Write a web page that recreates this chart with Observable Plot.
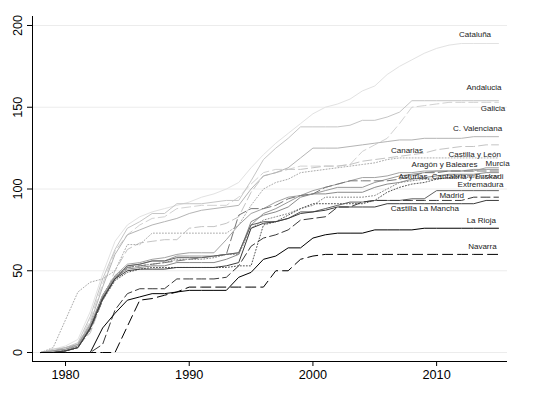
<!DOCTYPE html>
<html>
<head>
<meta charset="utf-8">
<script src="https://cdn.jsdelivr.net/npm/d3@7"></script>
<script src="https://cdn.jsdelivr.net/npm/@observablehq/plot@0.6"></script>
<style>
  html, body { margin: 0; padding: 0; background: #fff; }
  #chart svg { display: block; }
</style>
</head>
<body>
<div id="chart"></div>
<script>
const years = [1978,1979,1980,1981,1982,1983,1984,1985,1986,1987,1988,1989,1990,1991,1992,1993,1994,1995,1996,1997,1998,1999,2000,2001,2002,2003,2004,2005,2006,2007,2008,2009,2010,2011,2012,2013,2014,2015];

const cataluna      = [0,2,4,8,25,48,68,78,83,86,88,90,92,95,97,100,104,113,121,128,134,140,146,150,152,155,160,163,170,175,179,183,186,188,189,189,189,189];
const andalucia     = [0,2,3,6,22,45,63,76,80,85,85,91,91,91,92,93,93,105,118,125,131,138,138,138,138,139,142,142,144,147,154,154,154,154,154,154,154,154];
const galicia       = [0,1,3,5,20,42,62,72,78,82,83,88,89,90,90,90,95,103,110,112,112,114,114,114,114,115,123,127,131,140,150,151,152,153,153,153,153,153];
const cValenciana   = [0,1,3,5,18,40,60,72,75,78,80,82,85,87,88,89,90,100,108,110,113,119,125,125,125,126,127,128,129,130,130,131,131,131,131,132,132,132];
const castillaLeon  = [0,1,2,4,12,32,50,63,67,68,69,69,76,77,77,79,83,98,108,110,112,112,113,114,114,115,117,118,119,120,121,122,124,125,126,126,127,127];
const canarias      = [0,3,20,37,43,45,50,66,66,73,73,73,73,73,73,73,78,90,100,104,106,110,111,112,113,114,115,116,118,119,119,119,119,119,119,119,119,119];
const aragon        = [0,1,2,4,16,33,46,53,54,56,56,59,59,59,59,60,61,78,85,88,92,96,97,99,101,101,101,104,106,108,109,110,111,111,111,112,112,112];
const baleares      = [0,0,1,3,14,32,45,52,53,54,55,56,57,58,59,60,84,88,88,90,94,96,97,101,103,105,105,105,105,106,108,110,110,111,111,111,111,111];
const murcia        = [0,1,2,5,17,35,47,54,55,57,58,60,61,61,61,69,78,85,88,92,95,96,99,101,103,105,107,107,108,110,110,111,111,111,111,111,113,113];
const asturias      = [0,0,1,3,15,34,46,51,52,53,53,55,55,55,55,57,60,80,84,86,89,95,97,97,98,98,98,101,103,104,106,107,108,109,109,109,110,110];
const cantabria     = [0,0,1,3,14,32,44,49,51,52,52,52,52,52,52,52,53,53,78,80,84,88,91,91,91,91,91,93,98,101,103,104,106,107,108,108,108,108];
const euskadi       = [0,0,1,4,16,35,47,52,53,54,55,57,57,57,58,60,60,76,81,83,85,88,90,95,95,95,95,96,100,104,105,106,106,107,107,107,107,107];
const extremadura   = [0,0,1,3,15,33,45,53,54,56,56,58,58,58,59,60,61,78,80,80,82,86,86,88,90,92,92,93,93,93,94,94,99,99,99,99,99,99];
const madrid        = [0,0,0,0,0,5,26,36,39,39,39,45,45,45,45,46,53,65,70,72,75,81,82,83,89,89,92,93,93,93,93,93,93,93,93,95,95,95];
const castillaMancha= [0,0,1,3,15,33,45,50,51,51,51,52,52,52,52,53,55,76,79,80,82,85,86,87,89,89,89,89,91,91,91,91,91,91,91,91,93,93];
const laRioja       = [0,0,0,0,0,15,24,32,34,36,36,37,38,38,38,38,46,49,57,59,64,64,70,72,73,73,73,75,75,75,75,76,76,76,76,76,76,76];
const navarra       = [0,0,0,0,0,0,0,16,32,33,35,37,40,40,40,40,40,40,40,50,50,57,59,60,60,60,60,60,60,60,60,60,60,60,60,60,60,60];

const xTicks = [1980, 1990, 2000, 2010];
const yTicks = [0, 50, 100, 150, 200];

const labelText = ["Cataluña","Andalucia","Galicia","C. Valenciana","Canarias","Castilla y León","Aragón y Baleares","Murcia","Asturias, Cantabria y Euskadi","Extremadura","Madrid","Castilla La Mancha","La Rioja","Navarra"];
const labelYear = [2014.4,2015.25,2015.55,2015.3,2008.9,2015.2,2013.3,2015.9,2015.4,2015.4,2012.2,2011.8,2014.8,2014.85];
const labelValue= [194.8,162,149,137,123.5,121,115.3,115.6,107.6,102.8,96,88.4,80.7,64.8];

// series with their drawing styles
const series = [
  {v: cataluna,       stroke: "#e2e2e2", dash: null},
  {v: galicia,        stroke: "#d2d2d2", dash: "9,4"},
  {v: andalucia,      stroke: "#c6c6c6", dash: null},
  {v: castillaLeon,   stroke: "#c4c4c4", dash: "9,4"},
  {v: cValenciana,    stroke: "#b4b4b4", dash: null},
  {v: canarias,       stroke: "#ababab", dash: "1,2"},
  {v: murcia,         stroke: "#a2a2a2", dash: null},
  {v: aragon,         stroke: "#989898", dash: null},
  {v: asturias,       stroke: "#8a8a8a", dash: null},
  {v: euskadi,        stroke: "#8a8a8a", dash: "1,2"},
  {v: baleares,       stroke: "#777777", dash: "9,4"},
  {v: cantabria,      stroke: "#555555", dash: "1,2"},
  {v: extremadura,    stroke: "#606060", dash: null},
  {v: castillaMancha, stroke: "#3c3c3c", dash: null},
  {v: madrid,         stroke: "#3a3a3a", dash: "9,4"},
  {v: laRioja,        stroke: "#000000", dash: null},
  {v: navarra,        stroke: "#000000", dash: "10,5"}
];

const xDomain = [1977.33, 2015.73];
const yDomain = [-5.5, 205.5];

const lineMarks = series.map(s =>
  Plot.line(years.map((y, i) => ({year: y, value: s.v[i]})), {
    x: "year", y: "value", stroke: s.stroke, strokeWidth: 1,
    strokeDasharray: s.dash ?? undefined, curve: "linear"
  })
);

const labels = labelText.map((t, i) => ({t, x: labelYear[i], y: labelValue[i]}));

const chart = Plot.plot({
  width: 546,
  height: 394,
  marginLeft: 32,
  marginRight: 39,
  marginTop: 16,
  marginBottom: 33,
  style: {fontFamily: "'Liberation Sans', Arial, Helvetica, sans-serif", background: "#fff", color: "#000"},
  x: {domain: xDomain},
  y: {domain: yDomain},
  marks: [
    Plot.ruleY(yTicks, {stroke: "#ececec", strokeWidth: 1}),
    ...lineMarks,
    Plot.text(labels, {x: "x", y: "y", text: "t", textAnchor: "end", fontSize: 8, fill: "#222", lineAnchor: "middle"}),
    Plot.ruleX([xDomain[0]], {stroke: "#000", strokeWidth: 1}),
    Plot.ruleY([yDomain[0]], {stroke: "#000", strokeWidth: 1}),
    Plot.axisX({ticks: xTicks, tickSize: 5, tickPadding: 3, tickFormat: d => String(d), fontSize: 12.7, label: null, stroke: "#000"}),
    Plot.axisY({ticks: yTicks, tickSize: 5, tickFormat: () => "", label: null, stroke: "#000"}),
    Plot.text(yTicks, {x: () => xDomain[0], y: d => d, text: d => String(d), rotate: -90, dx: -15, fontSize: 12.7, textAnchor: "middle", lineAnchor: "middle", fill: "#000"})
  ]
});

document.getElementById("chart").appendChild(chart);
</script>
</body>
</html>
